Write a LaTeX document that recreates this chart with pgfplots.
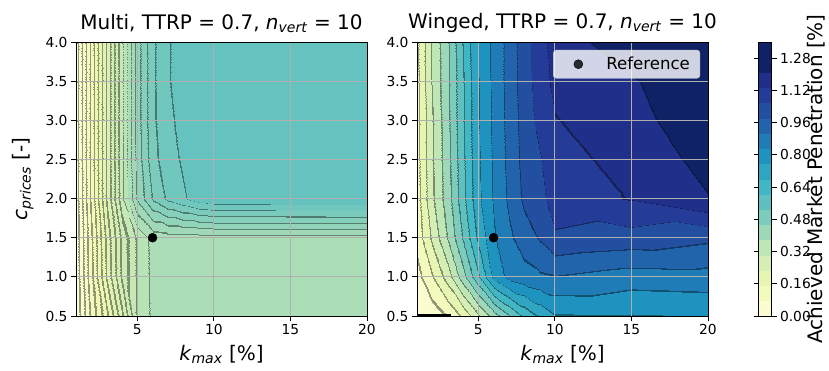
\documentclass[border=0pt]{standalone}
\usepackage{pgfplots}
\pgfplotsset{compat=1.18}
\usepackage{fontspec}
\setmainfont{DejaVu Sans}
\definecolor{gridgray}{RGB}{176,176,176}

\pgfplotsset{
  % plain band colours (used by the colorbar)
  colormap={ylgnbuW}{
    rgb255=(251,253,208) rgb255=(242,250,189) rgb255=(230,245,178) rgb255=(212,238,179)
    rgb255=(191,230,181) rgb255=(157,217,184) rgb255=(123,204,188) rgb255=(94,193,192)
    rgb255=(65,182,196) rgb255=(48,165,194) rgb255=(31,147,192) rgb255=(31,124,182)
    rgb255=(33,100,171) rgb255=(35,79,161) rgb255=(36,59,152) rgb255=(31,47,138)
    rgb255=(15,34,102) rgb255=(15,34,102)},
  % band colours with thin darker strips at every level (contour lines), Winged: step 0.08
  colormap={ylgnbuWL}{
    rgb255(0pt)=(251,253,208)
    rgb255(735pt)=(148,151,119) rgb255(865pt)=(242,250,189)
    rgb255(1535pt)=(142,149,110) rgb255(1665pt)=(230,245,178)
    rgb255(2335pt)=(133,145,107) rgb255(2465pt)=(212,238,179)
    rgb255(3135pt)=(121,140,108) rgb255(3265pt)=(191,230,181)
    rgb255(3935pt)=(104,134,110) rgb255(4065pt)=(157,217,184)
    rgb255(4735pt)=(84,126,112) rgb255(4865pt)=(123,204,188)
    rgb255(5535pt)=(65,119,114) rgb255(5665pt)=(94,193,192)
    rgb255(6335pt)=(48,113,116) rgb255(6465pt)=(65,182,196)
    rgb255(7135pt)=(34,104,117) rgb255(7265pt)=(48,165,194)
    rgb255(7975pt)=(24,94,116) rgb255(8025pt)=(31,147,192)
    rgb255(8775pt)=(19,81,112) rgb255(8825pt)=(31,124,182)
    rgb255(9575pt)=(19,67,106) rgb255(9625pt)=(33,100,171)
    rgb255(10375pt)=(20,54,100) rgb255(10425pt)=(35,79,161)
    rgb255(11192pt)=(21,41,94) rgb255(11208pt)=(36,59,152)
    rgb255(11988pt)=(20,32,87) rgb255(12012pt)=(31,47,138)
    rgb255(12792pt)=(14,24,72) rgb255(12808pt)=(15,34,102)
    rgb255(13600pt)=(15,34,102)},
  % Multi: step 0.03
  colormap={ylgnbuML}{
    rgb255(0pt)=(253,254,213)
    rgb255(245pt)=(151,152,126) rgb255(355pt)=(250,253,206)
    rgb255(545pt)=(149,152,122) rgb255(655pt)=(247,252,199)
    rgb255(845pt)=(147,151,117) rgb255(955pt)=(244,251,192)
    rgb255(1145pt)=(146,150,113) rgb255(1255pt)=(241,249,185)
    rgb255(1445pt)=(144,149,109) rgb255(1555pt)=(238,248,178)
    rgb255(1745pt)=(141,148,107) rgb255(1855pt)=(231,246,177)
    rgb255(2045pt)=(137,147,107) rgb255(2155pt)=(225,243,178)
    rgb255(2345pt)=(133,145,107) rgb255(2455pt)=(218,241,179)
    rgb255(2645pt)=(129,144,107) rgb255(2755pt)=(211,238,179)
    rgb255(2945pt)=(125,142,108) rgb255(3055pt)=(205,235,180)
    rgb255(3245pt)=(121,140,108) rgb255(3355pt)=(197,232,180)
    rgb255(3575pt)=(114,138,108) rgb255(3625pt)=(184,227,181)
    rgb255(3888pt)=(107,135,109) rgb255(3912pt)=(171,222,183)
    rgb255(4175pt)=(99,132,110) rgb255(4225pt)=(159,217,184)
    rgb255(4475pt)=(92,129,111) rgb255(4525pt)=(146,212,185)
    rgb255(4775pt)=(84,126,111) rgb255(4825pt)=(133,208,186)
    rgb255(5075pt)=(77,123,112) rgb255(5125pt)=(122,203,188)
    rgb255(5385pt)=(70,121,113) rgb255(5415pt)=(111,199,189)
    rgb255(5693pt)=(63,118,114) rgb255(5707pt)=(100,195,191)
    rgb255(5990pt)=(57,116,115) rgb255(6010pt)=(89,191,193)
    rgb255(6300pt)=(89,191,193)},
  panel/.style={
    view={0}{90},
    axis on top,
    scale only axis, width=291pt, height=274pt,
    xmin=1, xmax=20, ymin=0.5, ymax=4, zmin=0, zmax=1.5,
    xtick={5,10,15,20}, ytick={0.5,1,1.5,2,2.5,3,3.5,4}, ztick=\empty,
    yticklabel style={/pgf/number format/.cd, fixed, fixed zerofill, precision=1},
    xmajorgrids, ymajorgrids, grid style={color=gridgray, line width=0.8pt},
    tick align=outside, tick pos=left, major tick length=5pt,
    tick style={black, line width=0.8pt},
    axis line style={black, line width=0.8pt},
    /pgf/number format/assume math mode=true,
    ticklabel style={font=\fontsize{13.8}{16}\selectfont},
    title style={font=\fontsize{20}{24}\selectfont},
    label style={font=\fontsize{20}{24}\selectfont},
    xlabel shift=3pt,
    colormap access=piecewise constant,
  },
}

\begin{document}
\begin{tikzpicture}
\path[use as bounding box] (-76pt,-54pt) rectangle (753pt,316pt);

\begin{axis}[panel, at={(0pt,0pt)}, anchor=south west,
  colormap name=ylgnbuML, point meta min=0, point meta max=0.63,
  title={Multi, TTRP = 0.7, \textit{n}\textsubscript{\textit{vert}} = 10},
  xlabel={\textit{k}\textsubscript{\textit{max}} [\%]},
  ylabel={\textit{c}\textsubscript{\textit{prices}} [-]}, ylabel shift=5pt]
\addplot3[surf, shader=interp, mesh/cols=12, forget plot]
  table[x=x, y=y, z=z] {
x y z
1 0.5 0.006
2 0.5 0.0975
3 0.5 0.174
4 0.5 0.2635
5 0.5 0.3645
6 0.5 0.3975
7 0.5 0.402
8 0.5 0.4035
9 0.5 0.405
10 0.5 0.405
15 0.5 0.405
20 0.5 0.405
1 1.0 0.0105
2 1.0 0.111
3 1.0 0.216
4 1.0 0.306
5 1.0 0.3645
6 1.0 0.399
7 1.0 0.4035
8 1.0 0.405
9 1.0 0.405
10 1.0 0.405
15 1.0 0.405
20 1.0 0.405
1 1.5 0.012
2 1.5 0.1135
3 1.5 0.222
4 1.5 0.309
5 1.5 0.365
6 1.5 0.4005
7 1.5 0.405
8 1.5 0.405
9 1.5 0.405
10 1.5 0.405
15 1.5 0.405
20 1.5 0.405
1 2.0 0.015
2 2.0 0.1265
3 2.0 0.2465
4 2.0 0.351
5 2.0 0.4545
6 2.0 0.514
7 2.0 0.546
8 2.0 0.5655
9 2.0 0.585
10 2.0 0.594
15 2.0 0.5955
20 2.0 0.597
1 2.5 0.015
2 2.5 0.129
3 2.5 0.2465
4 2.5 0.355
5 2.5 0.462
6 2.5 0.531
7 2.5 0.558
8 2.5 0.5745
9 2.5 0.588
10 2.5 0.5895
15 2.5 0.591
20 2.5 0.591
1 3.0 0.015
2 3.0 0.129
3 3.0 0.2465
4 3.0 0.355
5 3.0 0.465
6 3.0 0.535
7 3.0 0.564
8 3.0 0.579
9 3.0 0.588
10 3.0 0.588
15 3.0 0.588
20 3.0 0.588
1 3.5 0.015
2 3.5 0.129
3 3.5 0.2465
4 3.5 0.355
5 3.5 0.465
6 3.5 0.535
7 3.5 0.568
8 3.5 0.582
9 3.5 0.588
10 3.5 0.588
15 3.5 0.588
20 3.5 0.588
1 4.0 0.015
2 4.0 0.129
3 4.0 0.2465
4 4.0 0.355
5 4.0 0.465
6 4.0 0.535
7 4.0 0.568
8 4.0 0.582
9 4.0 0.588
10 4.0 0.588
15 4.0 0.588
20 4.0 0.588
};
\addplot3[only marks, mark=*, mark size=4.5pt, black]
  coordinates {(6,1.5,1.4)};
\end{axis}

\begin{axis}[panel, at={(341pt,0pt)}, anchor=south west,
  colormap name=ylgnbuW, point meta min=0, point meta max=1.36,
  title={Winged, TTRP = 0.7, \textit{n}\textsubscript{\textit{vert}} = 10},
  xlabel={\textit{k}\textsubscript{\textit{max}} [\%]},
  legend style={at={(0.973,0.971)}, anchor=north east, draw=gray!40,
    fill=white, fill opacity=0.8, text opacity=1, rounded corners=3pt,
    font=\fontsize{16.6}{19}\selectfont, inner xsep=8pt, inner ysep=5pt},
  legend image code/.code={\path[draw=none, fill=none] (0pt,-4pt) rectangle (43pt,4pt);
    \fill[black] (17pt,0pt) circle (4.5pt);},
  colorbar,
  colorbar style={at={(parent axis.north east)}, anchor=north west, xshift=42pt,
    colormap name=ylgnbuW,
    scale only axis, width=13pt, height=274pt,
    ytick={0,0.16,0.32,0.48,0.64,0.8,0.96,1.12,1.28},
    yticklabel style={/pgf/number format/.cd, fixed, fixed zerofill, precision=2},
    ticklabel style={font=\fontsize{13.8}{16}\selectfont},
    /pgf/number format/assume math mode=true,
    tick align=outside, major tick length=5pt,
    tick style={black, line width=0.8pt},
    axis line style={black, line width=0.8pt}}]
\addplot3[surf, shader=interp, mesh/cols=12, forget plot, colormap name=ylgnbuWL]
  table[x=x, y=y, z=z] {
x y z
1 0.5 0.008
2 0.5 0.032
3 0.5 0.088
4 0.5 0.176
5 0.5 0.304
6 0.5 0.44
7 0.5 0.552
8 0.5 0.656
9 0.5 0.736
10 0.5 0.7936
15 0.5 0.796
20 0.5 0.804
1 1.0 0.048
2 1.0 0.152
3 1.0 0.28
4 1.0 0.448
5 1.0 0.624
6 1.0 0.824
7 1.0 0.904
8 1.0 0.928
9 1.0 0.948
10 1.0 0.956
15 1.0 0.92
20 1.0 0.928
1 1.5 0.112
2 1.5 0.256
3 1.5 0.409
4 1.5 0.568
5 1.5 0.736
6 1.5 0.872
7 1.5 0.944
8 1.5 1.0
9 1.5 1.048
10 1.5 1.108
15 1.5 1.088
20 1.5 1.056
1 2.0 0.128
2 2.0 0.304
3 2.0 0.448
4 2.0 0.616
5 2.0 0.78
6 2.0 0.892
7 2.0 0.976
8 2.0 1.056
9 2.0 1.096
10 2.0 1.16
15 2.0 1.204
20 2.0 1.276
1 2.5 0.132
2 2.5 0.311
3 2.5 0.456
4 2.5 0.624
5 2.5 0.788
6 2.5 0.896
7 2.5 0.984
8 2.5 1.068
9 2.5 1.114
10 2.5 1.168
15 2.5 1.232
20 2.5 1.304
1 3.0 0.136
2 3.0 0.311
3 3.0 0.464
4 3.0 0.632
5 3.0 0.792
6 3.0 0.9
7 3.0 0.988
8 3.0 1.076
9 3.0 1.148
10 3.0 1.196
15 3.0 1.256
20 3.0 1.328
1 3.5 0.14
2 3.5 0.328
3 3.5 0.468
4 3.5 0.632
5 3.5 0.795
6 3.5 0.904
7 3.5 0.992
8 3.5 1.084
9 3.5 1.16
10 3.5 1.224
15 3.5 1.272
20 3.5 1.344
1 4.0 0.144
2 4.0 0.33
3 4.0 0.472
4 4.0 0.647
5 4.0 0.805
6 4.0 0.904
7 4.0 0.992
8 4.0 1.088
9 4.0 1.168
10 4.0 1.24
15 4.0 1.328
20 4.0 1.352
};
\addplot3[black, line width=2pt, forget plot]
  coordinates {(1,0.515,1.4) (3.2,0.515,1.4)};
\addplot3[only marks, mark=*, mark size=4.5pt, black]
  coordinates {(6,1.5,1.4)};
\addlegendentry{Reference}
\end{axis}

\node[rotate=90, inner sep=0pt, font=\fontsize{20}{24}\selectfont] at (740pt,137pt)
  {Achieved Market Penetration [\%]};
\end{tikzpicture}
\end{document}
